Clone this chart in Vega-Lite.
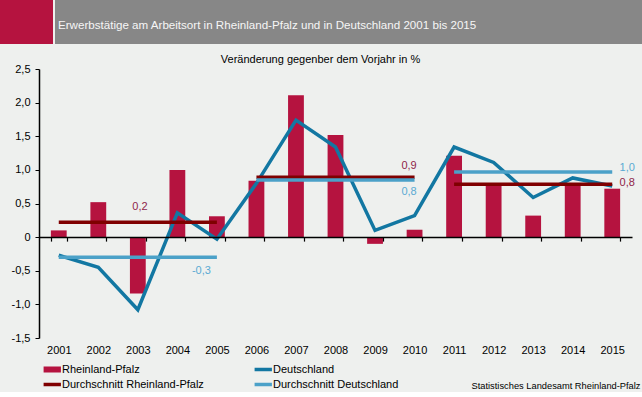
{
  "$schema": "https://vega.github.io/schema/vega-lite/v6.json",
  "background": "#EEF0EE",
  "padding": 0,
  "config": {"view": {"stroke": null}, "font": "Liberation Sans"},
  "datasets": {
    "bars": [
      {"year": "2001", "value": 0.1, "series": "Rheinland-Pfalz"},
      {"year": "2002", "value": 0.52, "series": "Rheinland-Pfalz"},
      {"year": "2003", "value": -0.84, "series": "Rheinland-Pfalz"},
      {"year": "2004", "value": 1.0, "series": "Rheinland-Pfalz"},
      {"year": "2005", "value": 0.31, "series": "Rheinland-Pfalz"},
      {"year": "2006", "value": 0.84, "series": "Rheinland-Pfalz"},
      {"year": "2007", "value": 2.11, "series": "Rheinland-Pfalz"},
      {"year": "2008", "value": 1.52, "series": "Rheinland-Pfalz"},
      {"year": "2009", "value": -0.1, "series": "Rheinland-Pfalz"},
      {"year": "2010", "value": 0.11, "series": "Rheinland-Pfalz"},
      {"year": "2011", "value": 1.21, "series": "Rheinland-Pfalz"},
      {"year": "2012", "value": 0.79, "series": "Rheinland-Pfalz"},
      {"year": "2013", "value": 0.32, "series": "Rheinland-Pfalz"},
      {"year": "2014", "value": 0.8, "series": "Rheinland-Pfalz"},
      {"year": "2015", "value": 0.72, "series": "Rheinland-Pfalz"}
    ],
    "de": [
      {"year": "2001", "value": -0.27, "series": "Deutschland"},
      {"year": "2002", "value": -0.45, "series": "Deutschland"},
      {"year": "2003", "value": -1.08, "series": "Deutschland"},
      {"year": "2004", "value": 0.36, "series": "Deutschland"},
      {"year": "2005", "value": -0.03, "series": "Deutschland"},
      {"year": "2006", "value": 0.8, "series": "Deutschland"},
      {"year": "2007", "value": 1.74, "series": "Deutschland"},
      {"year": "2008", "value": 1.34, "series": "Deutschland"},
      {"year": "2009", "value": 0.1, "series": "Deutschland"},
      {"year": "2010", "value": 0.32, "series": "Deutschland"},
      {"year": "2011", "value": 1.34, "series": "Deutschland"},
      {"year": "2012", "value": 1.11, "series": "Deutschland"},
      {"year": "2013", "value": 0.59, "series": "Deutschland"},
      {"year": "2014", "value": 0.88, "series": "Deutschland"},
      {"year": "2015", "value": 0.76, "series": "Deutschland"}
    ],
    "avg": [
      {"start": "2001", "end": "2005", "value": 0.22, "series": "Durchschnitt Rheinland-Pfalz", "label": "0,2"},
      {"start": "2006", "end": "2010", "value": 0.89, "series": "Durchschnitt Rheinland-Pfalz", "label": "0,9"},
      {"start": "2011", "end": "2015", "value": 0.785, "series": "Durchschnitt Rheinland-Pfalz", "label": "0,8"},
      {"start": "2001", "end": "2005", "value": -0.3, "series": "Durchschnitt Deutschland", "label": "-0,3"},
      {"start": "2006", "end": "2010", "value": 0.85, "series": "Durchschnitt Deutschland", "label": "0,8"},
      {"start": "2011", "end": "2015", "value": 0.97, "series": "Durchschnitt Deutschland", "label": "1,0"}
    ]
  },
  "resolve": {"scale": {"color": "independent"}, "legend": {"color": "independent"}},
  "vconcat": [
    {
      "hconcat": [
        {
          "width": 53, "height": 44,
          "view": {"fill": "#B5133F", "stroke": null},
          "data": {"values": [{}]},
          "mark": {"type": "text", "text": " "}
        },
        {
          "width": 587, "height": 44,
          "view": {"fill": "#878787", "stroke": null},
          "title": {
            "text": "Erwerbstätige am Arbeitsort in Rheinland-Pfalz und in Deutschland 2001 bis 2015",
            "anchor": "start", "offset": -26.7, "baseline": "alphabetic", "dx": 3, "dy": 14,
            "fontSize": 11.6, "fontWeight": "normal", "color": "#F6F6F6", "font": "Liberation Sans"
          },
          "data": {"values": [{}]},
          "mark": {"type": "text", "text": " "}
        }
      ],
      "spacing": 2
    },
    {
      "resolve": {"scale": {"color": "independent"}, "legend": {"color": "independent"}},
      "hconcat": [
        {
          "width": 1, "height": 1,
          "data": {"values": [{}]},
          "mark": {"type": "text", "text": " "}
        },
        {
          "width": 593,
          "height": 269,
          "title": {
            "text": "Veränderung gegenber dem Vorjahr in %",
            "fontSize": 11, "fontWeight": "normal", "color": "#000000",
            "anchor": "middle", "frame": "bounds", "offset": -2
          },
          "encoding": {
            "x": {
              "field": "year", "type": "ordinal",
              "scale": {"paddingInner": 0.6, "paddingOuter": 0.3},
              "axis": {
                "orient": "bottom", "offset": -100.9, "zindex": 1,
                "domainColor": "#000000", "domainWidth": 1.5,
                "tickBand": "extent", "tickColor": "#000000", "tickSize": 4, "tickWidth": 1.2,
                "labelPadding": 103, "labelFontSize": 11, "labelColor": "#000000", "labelAngle": 0,
                "title": "Statistisches Landesamt Rheinland-Pfalz",
                "titleX": 601, "titleY": 148.5, "titleAlign": "right", "titleBaseline": "middle",
                "titleFontSize": 9.3, "titleFontWeight": "normal", "titleColor": "#000000"
              }
            },
            "y": {
              "field": "value", "type": "quantitative",
              "scale": {"domain": [-1.5, 2.5], "nice": false, "zero": false},
              "axis": {
                "values": [-1.5, -1, -0.5, 0, 0.5, 1, 1.5, 2, 2.5],
                "labelExpr": "datum.value == 0 ? '0' : replace(replace(format(datum.value, '.1f'), '.', ','), '\u2212', '-')",
                "grid": false, "domainColor": "#000000", "domainWidth": 1.5,
                "tickColor": "#000000", "tickSize": 4, "labelPadding": 5,
                "labelFontSize": 11, "labelColor": "#000000",
                "title": ".", "titleOpacity": 0, "titleX": -38, "titleY": 0, "titleAngle": 0,
                "titleAlign": "left", "titleBaseline": "middle"
              }
            }
          },
          "layer": [
            {
              "data": {"name": "bars"},
              "mark": {"type": "bar"},
              "encoding": {
                "color": {
                  "field": "series", "type": "nominal",
                  "scale": {
                    "domain": ["Rheinland-Pfalz", "Deutschland", "Durchschnitt Rheinland-Pfalz", "Durchschnitt Deutschland"],
                    "range": ["#B5133F", "#1277A2", "#7F0000", "#4BA1C8"]
                  },
                  "legend": {
                    "orient": "none", "legendX": 7.75, "legendY": 295,
                    "direction": "horizontal", "gridAlign": "none",
                    "columns": 2, "columnPadding": 42, "rowPadding": -5,
                    "symbolType": "stroke", "symbolSize": 196, "symbolStrokeWidth": 4,
                    "labelFontSize": 11, "labelColor": "#000000", "labelOffset": 4.25,
                    "title": null, "padding": 0,
                    "encode": {
                      "symbols": {
                        "update": {
                          "shape": {"value": "stroke"},
                          "size": {"value": 300},
                          "fill": {"value": "transparent"},
                          "opacity": {"value": 1},
                          "stroke": {"signal": "datum.value == 'Rheinland-Pfalz' ? '#B5133F' : datum.value == 'Deutschland' ? '#1277A2' : datum.value == 'Durchschnitt Rheinland-Pfalz' ? '#7F0000' : '#4BA1C8'"},
                          "strokeWidth": {"signal": "datum.value == 'Rheinland-Pfalz' ? 6 : 3.5"}
                        }
                      }
                    }
                  }
                }
              }
            },
            {
              "data": {"name": "de"},
              "mark": {"type": "line", "strokeWidth": 3.5},
              "encoding": {
                "color": {"field": "series", "type": "nominal"}
              }
            },
            {
              "data": {"name": "avg"},
              "mark": {"type": "rule", "strokeWidth": 3.5},
              "encoding": {
                "x": {"field": "start", "type": "ordinal"},
                "x2": {"field": "end"},
                "color": {"field": "series", "type": "nominal"}
              }
            },
            {
              "data": {"name": "avg"},
              "transform": [{"filter": "datum.series == 'Durchschnitt Rheinland-Pfalz'"}],
              "mark": {
                "type": "text", "fontSize": 11, "color": "#8E1F4A", "align": "center", "baseline": "middle",
                "dx": {"expr": "datum.end == '2005' ? -77 : datum.end == '2010' ? -5.5 : 15"},
                "dy": {"expr": "datum.end == '2005' ? -15.6 : datum.end == '2010' ? -11.2 : -1.3"}
              },
              "encoding": {
                "x": {"field": "end", "type": "ordinal"},
                "text": {"field": "label"}
              }
            },
            {
              "data": {"name": "avg"},
              "transform": [{"filter": "datum.series == 'Durchschnitt Deutschland'"}],
              "mark": {
                "type": "text", "fontSize": 11, "color": "#5AAAD3", "align": "center", "baseline": "middle",
                "dx": {"expr": "datum.end == '2005' ? -15.5 : datum.end == '2010' ? -5.5 : 15"},
                "dy": {"expr": "datum.end == '2005' ? 13.4 : datum.end == '2010' ? 12.1 : -3.9"}
              },
              "encoding": {
                "x": {"field": "end", "type": "ordinal"},
                "text": {"field": "label"}
              }
            }
          ]
        }
      ],
      "spacing": 0
    }
  ],
  "spacing": 10
}
